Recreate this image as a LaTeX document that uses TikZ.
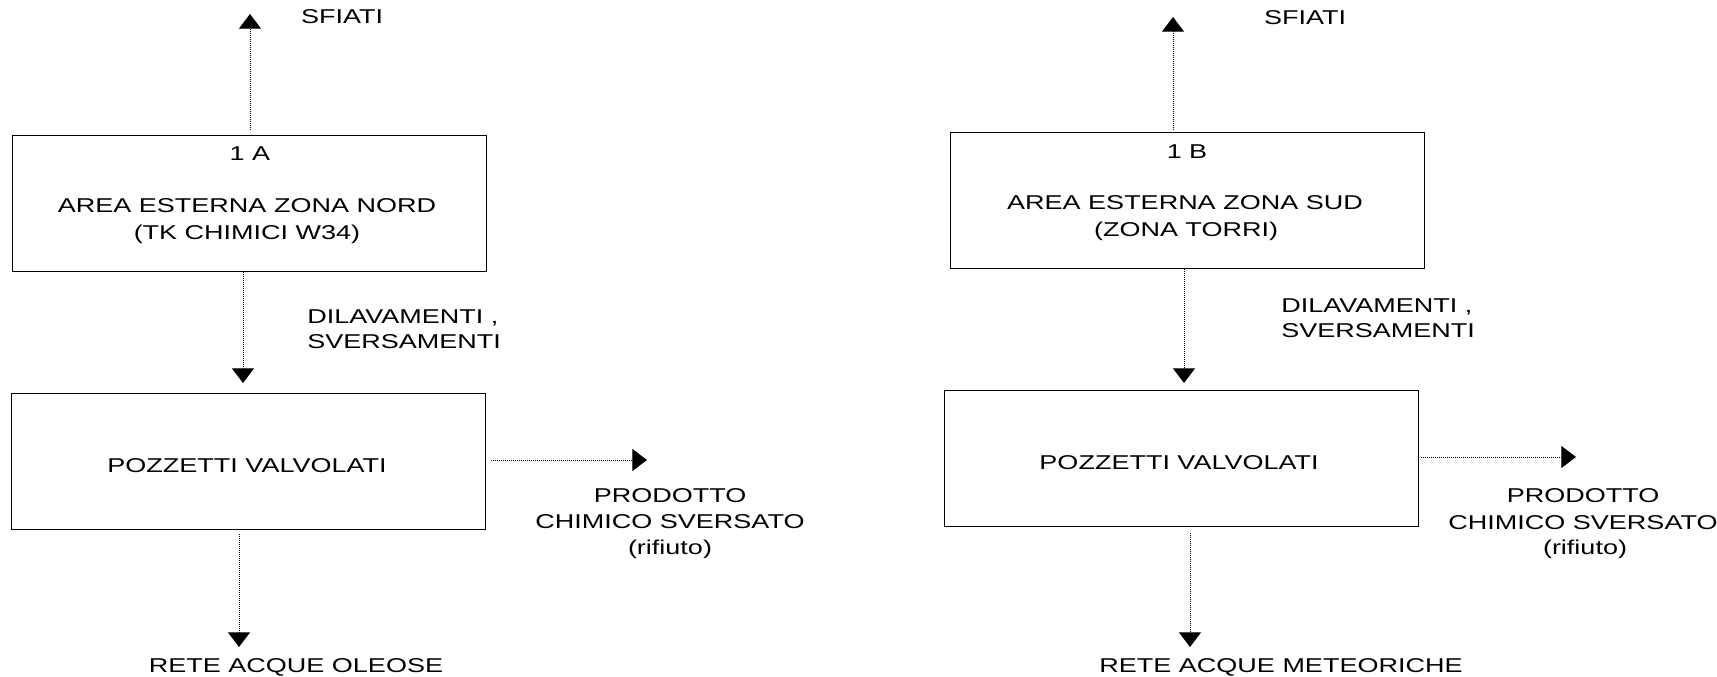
\documentclass[tikz,border=0pt]{standalone}
\usepackage{fontspec}
\setmainfont{Liberation Sans}[FakeStretch=1.35]
\usetikzlibrary{arrows.meta}
\begin{document}
\begin{tikzpicture}[x=0.75pt,y=-0.75pt,
  box/.style={draw=black, line width=1.1pt, minimum width=355.5pt, minimum height=102pt, anchor=north west, inner sep=0pt},
  txt/.style={font=\fontsize{15pt}{19.5pt}\selectfont, inner sep=0pt, anchor=base},
  txtl/.style={txt, anchor=base west},
  flow/.style={line width=0.75pt, dash pattern=on 0.75pt off 0.75pt, -{Triangle[width=16.5pt,length=11pt]}}]
\useasboundingbox (0,0) rectangle (1717,677);

% ---------- left column ----------
\node[box] (A1) at (12,135) {};
\node[box] (P1) at (11,393) {};
\node[txt] (a1n) at (250,161) {1 A};
\node[txt] (a1l1) at (247,213) {AREA ESTERNA ZONA NORD};
\node[txt] (a1l2) at (247,240) {(TK CHIMICI W34)};
\node[txt] (sfA) at (342,24) {SFIATI};
\node[txtl] (dilA1) at (307,324) {DILAVAMENTI ,};
\node[txtl] (dilA2) at (307,349) {SVERSAMENTI};
\node[txt] (p1t) at (247,472) {POZZETTI VALVOLATI};
\node[txt] (prA1) at (670,502) {PRODOTTO};
\node[txt] (prA2) at (670,528) {CHIMICO SVERSATO};
\node[txt] (prA3) at (670,554) {(rifiuto)};
\node[txt] (reA) at (296,672) {RETE ACQUE OLEOSE};

\coordinate (sA) at (250,14);
\coordinate (dA) at (243,383);
\coordinate (rA) at (647,460);
\coordinate (oA) at (239,647);
\draw[flow, shorten <=4pt] (A1.north -| sA) -- (sA);
\draw[flow] (A1.south -| dA) -- (dA);
\draw[flow, shorten <=3.5pt] (P1.east |- rA) -- (rA);
\draw[flow, shorten <=3pt] (P1.south -| oA) -- (oA);

% ---------- right column ----------
\node[box] (B1) at (950,132) {};
\node[box] (P2) at (944,390) {};
\node[txt] (b1n) at (1187,159) {1 B};
\node[txt] (b1l1) at (1185,210) {AREA ESTERNA ZONA SUD};
\node[txt] (b1l2) at (1186,237) {(ZONA TORRI)};
\node[txt] (sfB) at (1305,25) {SFIATI};
\node[txtl] (dilB1) at (1281,313) {DILAVAMENTI ,};
\node[txtl] (dilB2) at (1281,338) {SVERSAMENTI};
\node[txt] (p2t) at (1179,469) {POZZETTI VALVOLATI};
\node[txt] (prB1) at (1583,502) {PRODOTTO};
\node[txt] (prB2) at (1583,529) {CHIMICO SVERSATO};
\node[txt] (prB3) at (1585,554) {(rifiuto)};
\node[txt] (reB) at (1281,672) {RETE ACQUE METEORICHE};

\coordinate (sB) at (1173,17);
\coordinate (dB) at (1184,383);
\coordinate (rB) at (1576,457);
\coordinate (oB) at (1190,647);
\draw[flow, shorten <=1.5pt] (B1.north -| sB) -- (sB);
\draw[flow] (B1.south -| dB) -- (dB);
\draw[flow, shorten <=1.5pt] (P2.east |- rB) -- (rB);
\draw[flow, shorten <=4pt] (P2.south -| oB) -- (oB);
\end{tikzpicture}
\end{document}
